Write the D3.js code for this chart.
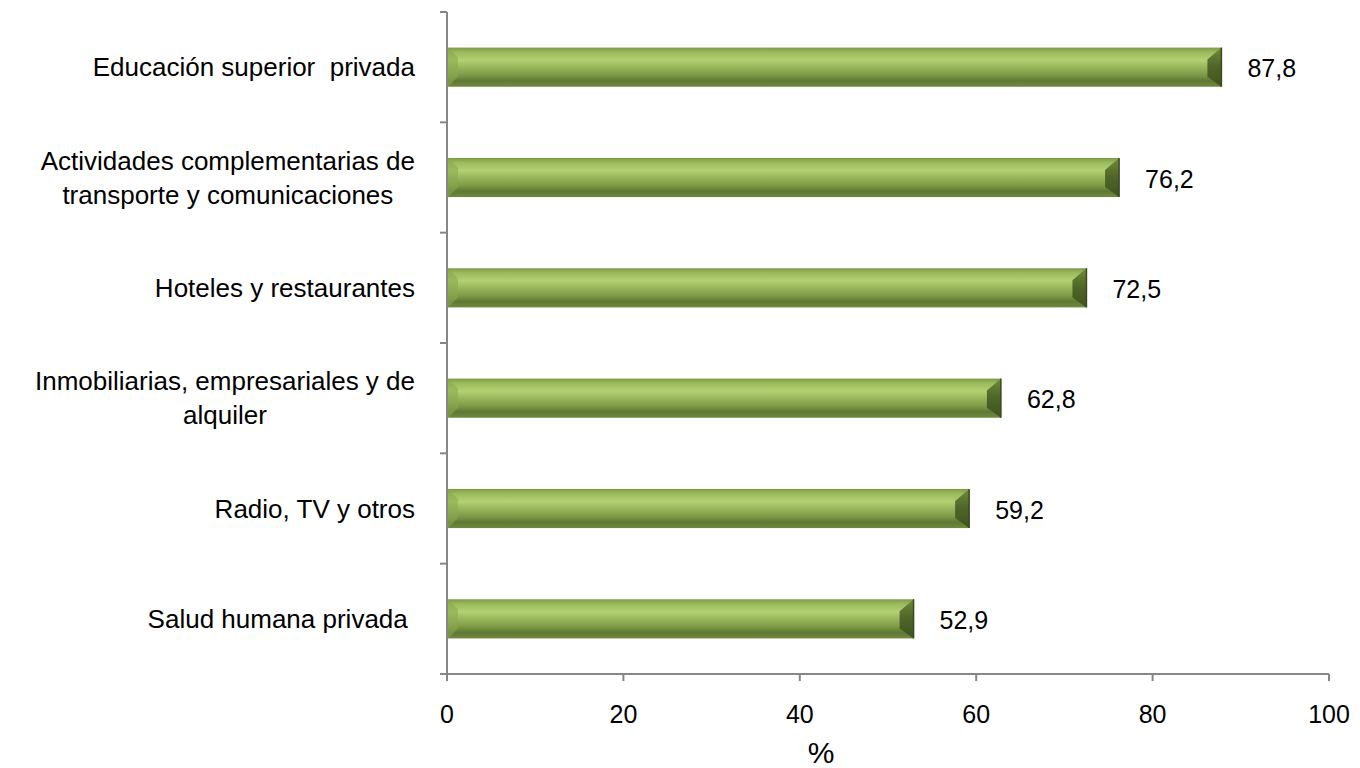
<!DOCTYPE html>
<html><head><meta charset="utf-8">
<script src="https://cdn.jsdelivr.net/npm/d3@7"></script>
<style>body{margin:0;background:#fff}svg{display:block}</style>
</head><body>
<svg id="c" width="1360" height="768"></svg>
<script>
const categories = [
  ["Educación superior  privada"],
  ["Actividades complementarias de", "transporte y comunicaciones"],
  ["Hoteles y restaurantes"],
  ["Inmobiliarias, empresariales y de", "alquiler"],
  ["Radio, TV y otros"],
  ["Salud humana privada "]
];
const values = [87.8, 76.2, 72.5, 62.8, 59.2, 52.9];
const labels = ["87,8", "76,2", "72,5", "62,8", "59,2", "52,9"];
const xTicks = [0, 20, 40, 60, 80, 100];

const svg = d3.select("#c");
const font = "'Liberation Sans', Arial, sans-serif";
const x = d3.scaleLinear().domain([0, 100]).range([447, 1329]);
const y = d3.scaleBand().domain(d3.range(categories.length)).range([12, 674]).paddingInner(0.645).paddingOuter(0.3225);

const defs = svg.append("defs");
const g = defs.append("linearGradient").attr("id", "bg").attr("x1", 0).attr("y1", 0).attr("x2", 0).attr("y2", 1);
[[0, "#7f9a47"], [0.12, "#9bba5c"], [0.32, "#b4d172"], [0.5, "#98b75c"], [0.7, "#7e9a46"], [0.85, "#5f7834"], [1, "#6f8a3d"]]
  .forEach(([o, c]) => g.append("stop").attr("offset", o).attr("stop-color", c));
const ge = defs.append("linearGradient").attr("id", "be").attr("x1", 0).attr("y1", 0).attr("x2", 0).attr("y2", 1);
[[0, "#6e8a3a"], [0.5, "#4f6428"], [1, "#3f5220"]].forEach(([o, c]) => ge.append("stop").attr("offset", o).attr("stop-color", c));

// axes
const axisColor = "#868686";
svg.append("line").attr("x1", x(0)).attr("x2", x(0)).attr("y1", y.range()[0]).attr("y2", 674)
  .attr("stroke", axisColor).attr("stroke-width", 2);
svg.append("line").attr("x1", x(0) - 7).attr("x2", x(100)).attr("y1", 674).attr("y2", 674)
  .attr("stroke", axisColor).attr("stroke-width", 2);
d3.range(categories.length + 1).forEach(i => {
  const yy = 12 + i * (662 / categories.length);
  svg.append("line").attr("x1", x(0) - 7).attr("x2", x(0)).attr("y1", yy).attr("y2", yy)
    .attr("stroke", axisColor).attr("stroke-width", 2);
});
xTicks.forEach(t => {
  svg.append("line").attr("x1", x(t)).attr("x2", x(t)).attr("y1", 674).attr("y2", 681)
    .attr("stroke", axisColor).attr("stroke-width", 2);
  svg.append("text").attr("x", x(t)).attr("y", 723).attr("text-anchor", "middle")
    .attr("font-family", font).attr("font-size", 25).attr("fill", "#000").text(t);
});
svg.append("text").attr("x", 821).attr("y", 763).attr("text-anchor", "middle")
  .attr("font-family", font).attr("font-size", 30).attr("fill", "#000").text("%");

// bars
const bh = y.bandwidth();
values.forEach((v, i) => {
  const y0 = y(i), x0 = x(0) + 1, x1 = x(v);
  const bg = svg.append("g");
  bg.append("rect").attr("x", x0).attr("y", y0).attr("width", x1 - x0).attr("height", bh).attr("fill", "url(#bg)");
  bg.append("polygon").attr("points", `${x0},${y0} ${x0 + 10},${y0 + 10} ${x0 + 10},${y0 + bh - 10} ${x0},${y0 + bh}`)
    .attr("fill", "#8aa84f").attr("opacity", 0.6);
  bg.append("polygon").attr("points", `${x1},${y0} ${x1 - 14},${y0 + 12} ${x1 - 14},${y0 + bh - 10} ${x1},${y0 + bh}`)
    .attr("fill", "url(#be)");
  bg.append("line").attr("x1", x1).attr("x2", x1).attr("y1", y0).attr("y2", y0 + bh).attr("stroke", "#3a4a1c").attr("stroke-width", 1.5);
  svg.append("text").attr("x", x1 + 26).attr("y", y0 + bh / 2 + 10).attr("font-family", font).attr("font-size", 25)
    .attr("fill", "#000").text(labels[i]);
});

// category labels
const lineW = [];
categories.forEach((lines, i) => {
  const cy = y(i) + bh / 2;
  const n = lines.length;
  lines.forEach((l, j) => {
    const yy = cy + 9 + (j - (n - 1) / 2) * 34;
    const t = svg.append("text")
      .attr("y", yy)
      .attr("font-family", font).attr("font-size", 26).attr("fill", "#000")
      .style("white-space", "pre").text(l);
    if (n > 1 && j === 1) {
      t.attr("text-anchor", "middle").attr("x", 415 - lineW[i] / 2);
    } else {
      t.attr("text-anchor", "end").attr("x", 415);
    }
    if (j === 0) lineW[i] = t.node().getComputedTextLength();
  });
});
</script>
</body></html>
